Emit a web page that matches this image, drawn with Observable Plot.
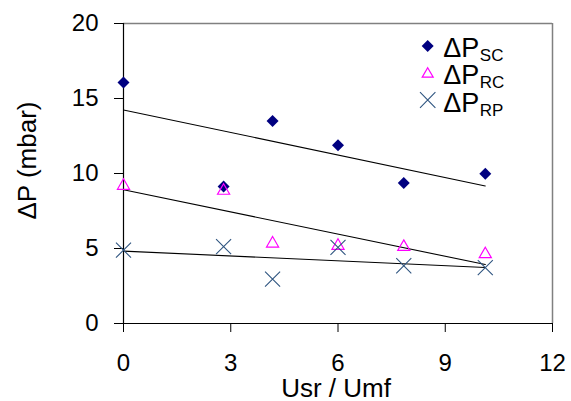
<!DOCTYPE html>
<html>
<head>
<meta charset="utf-8">
<script src="https://cdn.jsdelivr.net/npm/d3@7"></script>
<script src="https://cdn.jsdelivr.net/npm/@observablehq/plot@0.6"></script>
<style>
  html, body { margin: 0; padding: 0; background: #fff; }
  #wrap { position: relative; width: 571px; height: 401px; font-family: "Liberation Sans", Arial, sans-serif; }
  #legend { position: absolute; left: 415px; top: 30px; overflow: visible; }
</style>
</head>
<body>
<div id="wrap"></div>
<script>
// Data
const usr  = [0, 2.8, 4.17, 6.0, 7.84, 10.12];
const dpSC = [16.07, 9.13, 13.5, 11.89, 9.36, 9.98];
const dpRC = [9.18, 8.85, 5.33, 5.18, 5.11, 4.62];
const dpRP = [4.89, 5.13, 2.96, 5.07, 3.85, 3.73];
const xTicks = [0, 3, 6, 9, 12];
const yTicks = [0, 5, 10, 15, 20];
const xLabel = "Usr / Umf";
const yLabel = "ΔP (mbar)";
const seriesNames = ["SC", "RC", "RP"];
const colors = {SC: "#000080", RC: "#ff00ff", RP: "#2f5580"};

const rows = (vals) => usr.map((x, i) => ({x, y: vals[i]}));
const sc = rows(dpSC), rc = rows(dpRC), rp = rows(dpRP);

const chart = Plot.plot({
  width: 571,
  height: 401,
  marginLeft: 123,
  marginRight: 19,
  marginTop: 23,
  marginBottom: 78,
  style: {fontFamily: "Liberation Sans, Arial, sans-serif", color: "#000", background: "#fff", overflow: "visible"},
  x: {domain: [0, 12]},
  y: {domain: [0, 20]},
  marks: [
    Plot.ruleY([20], {stroke: "#808080", strokeWidth: 1.5}),
    Plot.ruleX([12], {stroke: "#808080", strokeWidth: 1.5}),
    Plot.axisY({ticks: yTicks, tickSize: 9, tickPadding: 16, fontSize: 24, label: null, tickFormat: d => d}),
    Plot.axisX({ticks: xTicks, tickSize: 9, tickPadding: 21, fontSize: 24, label: null, tickFormat: d => d}),
    Plot.ruleX([0], {stroke: "#000", strokeWidth: 1.2}),
    Plot.ruleY([0], {stroke: "#000", strokeWidth: 1.2}),
    Plot.linearRegressionY(sc, {x: "x", y: "y", ci: 0, stroke: "#000", strokeWidth: 1.1}),
    Plot.linearRegressionY(rc, {x: "x", y: "y", ci: 0, stroke: "#000", strokeWidth: 1.1}),
    Plot.linearRegressionY(rp, {x: "x", y: "y", ci: 0, stroke: "#000", strokeWidth: 1.1}),
    Plot.dot(sc, {x: "x", y: "y", symbol: "diamond2", r: 5.4, fill: colors.SC, stroke: "none"}),
    Plot.dot(rc, {x: "x", y: "y", symbol: "triangle", r: 4.5, fill: "none", stroke: colors.RC, strokeWidth: 1.2}),
    Plot.dot(rp, {x: "x", y: "y", symbol: "times", r: 6.9, stroke: colors.RP, strokeWidth: 1.1}),
    Plot.text([yLabel], {frameAnchor: "left", rotate: -90, dx: -96, dy: -13, fontSize: 26, textAnchor: "middle", lineAnchor: "middle", fill: "#000"}),
    Plot.text([xLabel], {frameAnchor: "bottom", dx: -2, dy: 73, fontSize: 26, textAnchor: "middle", lineAnchor: "bottom", fill: "#000"})
  ]
});

const wrap = document.getElementById("wrap");
wrap.appendChild(chart);

// Legend overlay (symbols + labels)
const symbolPath = {
  SC: (cy) => `<path d="M12.7,${cy-6}L18.7,${cy}L12.7,${cy+6}L6.7,${cy}Z" fill="${colors.SC}"/>`,
  RC: (cy) => `<path d="M12.7,${cy-5}L18.2,${cy+4.5}H7.2Z" fill="none" stroke="${colors.RC}" stroke-width="1.2"/>`,
  RP: (cy) => `<path d="M5,${cy-7.8}L20.4,${cy+7.8}M5,${cy+7.8}L20.4,${cy-7.8}" stroke="${colors.RP}" stroke-width="1.1"/>`
};
const symCenters = [16, 42.7, 70];
const baselines = [26.7, 54, 81.7];
let svgContent = "";
seriesNames.forEach((n, i) => {
  svgContent += symbolPath[n](symCenters[i]);
  svgContent += `<text x="28.3" y="${baselines[i]}" font-size="27" fill="#000">ΔP<tspan dx="0.5" dy="4" font-size="17">${n}</tspan></text>`;
});
const legend = document.createElementNS("http://www.w3.org/2000/svg", "svg");
legend.setAttribute("id", "legend");
legend.setAttribute("width", "120");
legend.setAttribute("height", "100");
legend.innerHTML = svgContent;
wrap.appendChild(legend);
</script>
</body>
</html>
